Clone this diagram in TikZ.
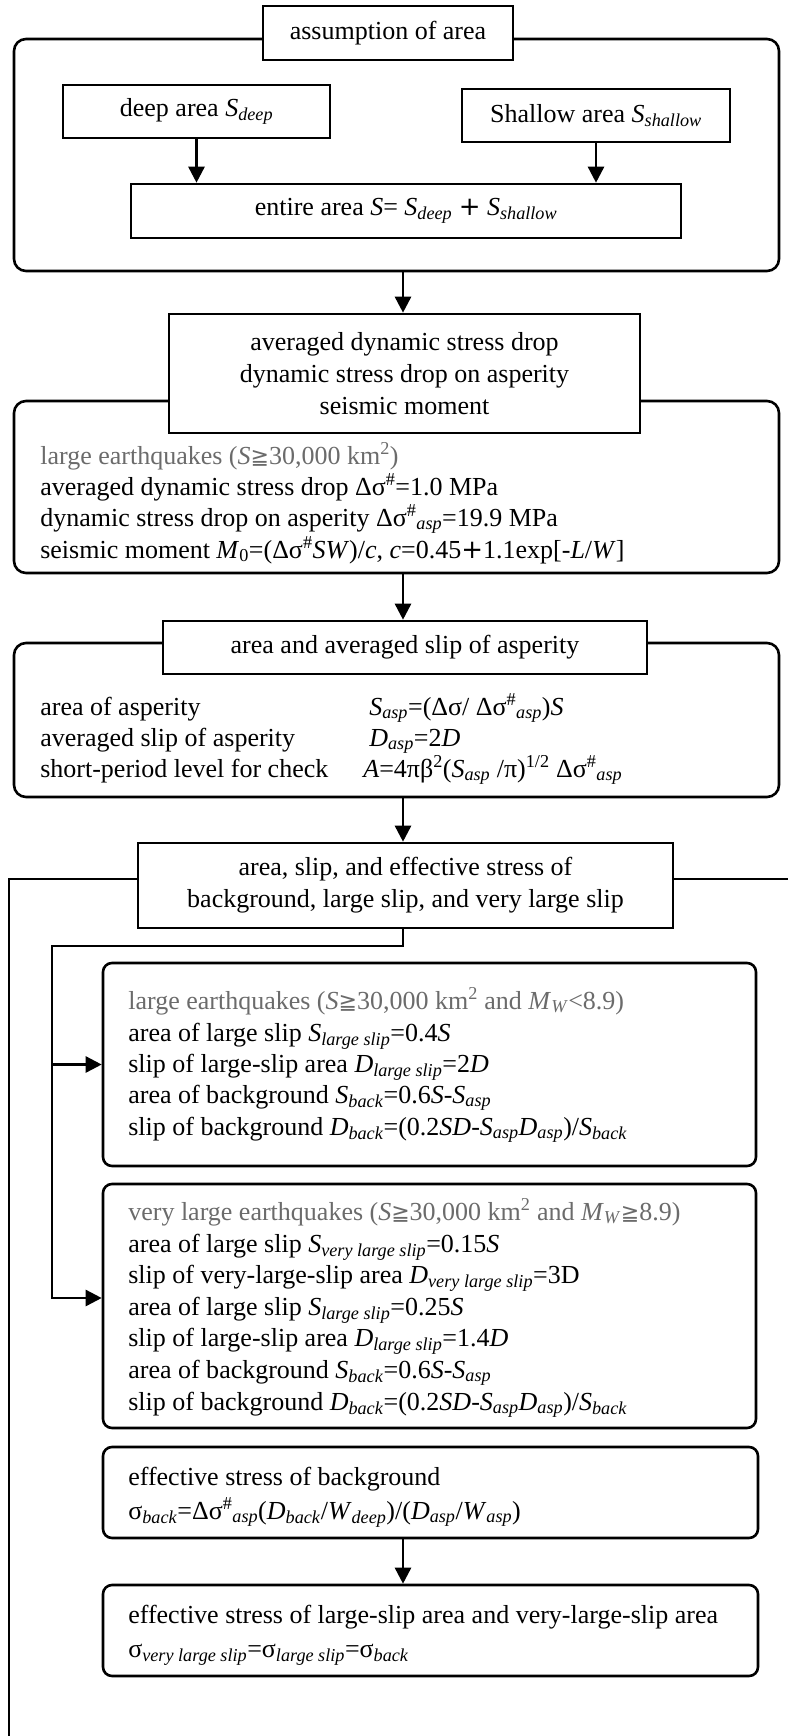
\documentclass[tikz,border=0pt]{standalone}
\usepackage{fontspec}
\setmainfont{Liberation Serif}
\newfontfamily\dvs{DejaVu Sans}
\usetikzlibrary{arrows.meta}
\definecolor{tgray}{gray}{0.42}
\newcommand\Sb[1]{\textsubscript{\textit{#1}}}
\newcommand\Sp[1]{\textsuperscript{#1}}
\newcommand\geqs{{\dvs\fontsize{22}{22}\selectfont ≧}}
\newcommand\dsh{Δσ\textsuperscript{\#}}
\newcommand\pls{{\dvs +}}
\newcommand\fs{\fontsize{26}{32}\selectfont}
\begin{document}
\begin{tikzpicture}[x=1pt,y=-1pt,line width=2.6pt,
 sq/.style={draw,fill=white,inner sep=0pt,align=center,font=\fs},
 rb/.style={draw,rounded corners=12pt,inner sep=0pt},
 rs/.style={draw,rounded corners=9pt,inner sep=0pt},
 ln/.style={anchor=base west,inner sep=0pt,font=\fs},
 gr/.style={text=tgray},
 arr/.style={-{Triangle[length=16pt,width=16pt]}}]
\useasboundingbox (0,0) rectangle (787,1736);
\coordinate (sp) at (403,0);
% ---- block 1
\node[rb,minimum width=765pt,minimum height=232pt] (o1) at (396.5,155) {};
\node[sq,minimum width=250pt,minimum height=54pt] (t1) at (388,33) {assumption of area};
\node[sq,minimum width=267pt,minimum height=53pt] (deep) at (196.5,111.5) {deep area \textit{S}\Sb{deep}};
\node[sq,minimum width=268pt,minimum height=53pt] (shal) at (596,115.5) {Shallow area \textit{S}\Sb{shallow}};
\node[sq,minimum width=550pt,minimum height=54pt] (ent) at (406,211) {entire area \textit{S}= \textit{S}\Sb{deep} \pls{} \textit{S}\Sb{shallow}};
\draw[arr] (deep.south) -- (deep.south |- ent.north);
\draw[arr] (shal.south) -- (shal.south |- ent.north);
% ---- block 2
\node[rb,minimum width=765pt,minimum height=172pt] (o2) at (396.5,487) {};
\node[sq,minimum width=471pt,minimum height=119pt] (t2) at (404.5,373.5) {averaged dynamic stress drop\\dynamic stress drop on asperity\\seismic moment};
\draw[arr] (o1.south -| sp) -- (t2.north -| sp);
\node[ln,gr] (a1) at (39,464) {large earthquakes (\textit{S}\geqs 30,000 km\Sp{2})};
\node[ln] (a2) at (39,495) {averaged dynamic stress drop \dsh=1.0 MPa};
\node[ln] (a3) at (39,526) {dynamic stress drop on asperity \dsh\Sb{asp}=19.9 MPa};
\node[ln] (a4) at (39,558) {seismic moment \textit{M}\textsubscript{0}=(\dsh\textit{SW})/\textit{c}, \textit{c}=0.45\pls1.1exp[-\textit{L}/\textit{W}]};
% ---- block 3
\node[rb,minimum width=765pt,minimum height=154pt] (o3) at (396.5,720) {};
\node[sq,minimum width=484pt,minimum height=53pt] (t3) at (405,647.5) {area and averaged slip of asperity};
\draw[arr] (o2.south -| sp) -- (t3.north -| sp);
\node[ln] (b1) at (39,715) {area of asperity};
\node[ln] (b2) at (368,715) {\textit{S}\Sb{asp}=(Δσ/ \dsh\Sb{asp})\textit{S}};
\node[ln] (b3) at (39,746) {averaged slip of asperity};
\node[ln] (b4) at (368,746) {\textit{D}\Sb{asp}=2\textit{D}};
\node[ln] (b5) at (39,777) {short-period level for check};
\node[ln] (b6) at (362,777) {\textit{A}=4πβ\Sp{2}(\textit{S}\Sb{asp} /π)\Sp{1/2} \dsh\Sb{asp}};
% ---- block 4
\node[sq,minimum width=535pt,minimum height=85pt] (t4) at (405.5,885.5) {area, slip, and effective stress of\\background, large slip, and very large slip};
\draw[arr] (o3.south -| sp) -- (t4.north -| sp);
\coordinate (bl) at (9,1740);
\coordinate (br) at (790,879);
\draw ([yshift=6.5pt]t4.west) -| (bl);
\draw ([yshift=6.5pt]t4.east) -- (br);
\node[rs,minimum width=653pt,minimum height=203pt] (L) at (429.5,1064.5) {};
\node[rs,minimum width=653pt,minimum height=244pt] (VL) at (429.5,1306) {};
\node[rs,minimum width=655pt,minimum height=91pt] (E1) at (430.5,1492.5) {};
\node[rs,minimum width=655pt,minimum height=91pt] (E2) at (430.5,1630.5) {};
\coordinate (j) at (52,946);
\draw[arr] (t4.south -| sp) |- (j) |- (L.west);
\draw[arr] (j) |- ([yshift=8pt]VL.west);
\draw[arr] (E1.south -| sp) -- (E2.north -| sp);
\node[ln,gr] (c1) at (127,1009) {large earthquakes (\textit{S}\geqs 30,000 km\Sp{2} and \textit{M}\Sb{W}<8.9)};
\node[ln] (c2) at (127,1041) {area of large slip \textit{S}\Sb{large slip}=0.4\textit{S}};
\node[ln] (c3) at (127,1072) {slip of large-slip area \textit{D}\Sb{large slip}=2\textit{D}};
\node[ln] (c4) at (127,1103) {area of background \textit{S}\Sb{back}=0.6\textit{S}-\textit{S}\Sb{asp}};
\node[ln] (c5) at (127,1135) {slip of background \textit{D}\Sb{back}=(0.2\textit{SD}-\textit{S}\Sb{asp}\textit{D}\Sb{asp})/\textit{S}\Sb{back}};
\node[ln,gr] (d1) at (127,1220) {very large earthquakes (\textit{S}\geqs 30,000 km\Sp{2} and \textit{M}\Sb{W}\geqs 8.9)};
\node[ln] (d2) at (127,1252) {area of large slip \textit{S}\Sb{very large slip}=0.15\textit{S}};
\node[ln] (d3) at (127,1283) {slip of very-large-slip area \textit{D}\Sb{very large slip}=3D};
\node[ln] (d4) at (127,1315) {area of large slip \textit{S}\Sb{large slip}=0.25\textit{S}};
\node[ln] (d5) at (127,1346) {slip of large-slip area \textit{D}\Sb{large slip}=1.4\textit{D}};
\node[ln] (d6) at (127,1378) {area of background \textit{S}\Sb{back}=0.6\textit{S}-\textit{S}\Sb{asp}};
\node[ln] (d7) at (127,1410) {slip of background \textit{D}\Sb{back}=(0.2\textit{SD}-\textit{S}\Sb{asp}\textit{D}\Sb{asp})/\textit{S}\Sb{back}};
\node[ln] (e1) at (127,1485) {effective stress of background};
\node[ln] (e2) at (127,1519) {σ\Sb{back}=\dsh\Sb{asp}(\textit{D}\Sb{back}/\textit{W}\Sb{deep})/(\textit{D}\Sb{asp}/\textit{W}\Sb{asp})};
\node[ln] (f1) at (127,1623) {effective stress of large-slip area and very-large-slip area};
\node[ln] (f2) at (127,1657) {σ\Sb{very large slip}=σ\Sb{large slip}=σ\Sb{back}};
\end{tikzpicture}
\end{document}
